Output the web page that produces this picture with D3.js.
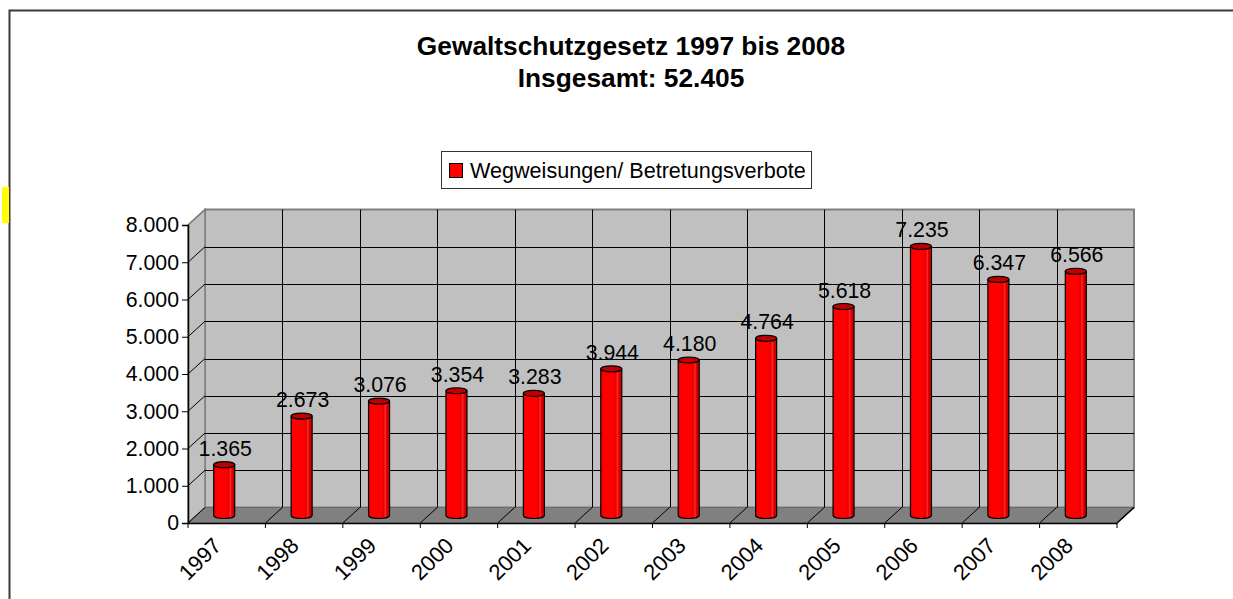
<!DOCTYPE html>
<html>
<head>
<meta charset="utf-8">
<script src="https://cdn.jsdelivr.net/npm/d3@7"></script>
<style>
  body { margin: 0; background: #fff; }
  text { font-family: "Liberation Sans", Arial, sans-serif; fill: #000; }
</style>
</head>
<body>
<div id="canvas"></div>
<script>
const years = ["1997", "1998", "1999", "2000", "2001", "2002", "2003", "2004", "2005", "2006", "2007", "2008"];
const values = [1365, 2673, 3076, 3354, 3283, 3944, 4180, 4764, 5618, 7235, 6347, 6566];
const yTicks = [0, 1000, 2000, 3000, 4000, 5000, 6000, 7000, 8000];
const seriesName = "Wegweisungen/ Betretungsverbote";
const titleLines = ["Gewaltschutzgesetz 1997 bis 2008", "Insgesamt: 52.405"];

const width = 1233;
const height = 599;
const fmt = (v) => d3.format(",")(v).replace(/,/g, ".");

// front plane and back plane of the 3d box
const front = { left: 188, right: 1117, bottom: 523, top: 225 };
const depth = { dx: 17, dy: -15.5 };

const svg = d3.select("#canvas").append("svg")
  .attr("width", width)
  .attr("height", height);

// outer chart border (continues past the window)
svg.append("path")
  .attr("d", `M9.5,${height + 5} L9.5,10.5 L${width + 5},10.5`)
  .attr("fill", "none")
  .attr("stroke", "#3a3a3a")
  .attr("stroke-width", 2);
svg.append("rect").attr("x", 2).attr("y", 187).attr("width", 7).attr("height", 36).attr("fill", "#ffff00");

// title
svg.append("g").selectAll("text").data(titleLines).enter().append("text")
  .attr("x", 631)
  .attr("y", (d, i) => 55 + i * 32)
  .attr("text-anchor", "middle")
  .style("font-size", "26.3px")
  .style("font-weight", "bold")
  .text((d) => d);

// legend
const lg = svg.append("g");
lg.append("rect").attr("x", 441.5).attr("y", 151.5).attr("width", 370).attr("height", 37)
  .attr("fill", "#fff").attr("stroke", "#333");
lg.append("rect").attr("x", 449.5).attr("y", 163.5).attr("width", 13).attr("height", 14)
  .attr("fill", "#ff0000").attr("stroke", "#000");
lg.append("text").attr("x", 470).attr("y", 178).style("font-size", "21.6px").text(seriesName);

const x = d3.scaleBand().domain(years).range([front.left, front.right]);
const yFront = d3.scaleLinear().domain([0, 8000]).range([front.bottom, front.top]);
const yBack = d3.scaleLinear().domain([0, 8000]).range([front.bottom + depth.dy, front.top + depth.dy]);
const yBar = d3.scaleLinear().domain([0, 8000]).range([515.5, 217.9]);
const xBack = (v) => v + depth.dx;

const backL = xBack(front.left), backR = xBack(front.right);

// gradient for the cylinders
const defs = svg.append("defs");
const grad = defs.append("linearGradient").attr("id", "cyl").attr("x1", 0).attr("x2", 1).attr("y1", 0).attr("y2", 0);
[[0, "#f00000"], [0.15, "#ff0000"], [0.62, "#ff0000"], [0.72, "#e60000"], [0.8, "#ff2a2a"], [0.86, "#dd0000"], [1, "#c80000"]]
  .forEach(([o, c]) => grad.append("stop").attr("offset", o).attr("stop-color", c));

// back wall
svg.append("rect")
  .attr("x", backL).attr("y", yBack(8000))
  .attr("width", backR - backL).attr("height", yBack(0) - yBack(8000))
  .attr("fill", "#c0c0c0").attr("stroke", "#808080").attr("stroke-width", 2);

// side wall
svg.append("path")
  .attr("d", `M${front.left},${yFront(0)} L${front.left},${yFront(8000)} L${backL},${yBack(8000)} L${backL},${yBack(0)} Z`)
  .attr("fill", "#c0c0c0").attr("stroke", "#808080").attr("stroke-width", 1.5);

// floor
svg.append("path")
  .attr("d", `M${front.left},${yFront(0)} L${backL},${yBack(0)} L${backR},${yBack(0)} L${front.right},${yFront(0)} Z`)
  .attr("fill", "#808080").attr("stroke", "#6a6a6a");

const boundaries = d3.range(years.length + 1).map((i) => front.left + i * x.step());

// grid on the back wall
const grid = svg.append("g").attr("stroke", "#000").attr("stroke-width", 1).attr("fill", "none");
grid.selectAll(".hg").data(yTicks.filter((d) => d > 0 && d < 8000)).enter().append("line")
  .attr("x1", backL).attr("x2", backR)
  .attr("y1", (d) => Math.round(yBack(d)) + 0.5).attr("y2", (d) => Math.round(yBack(d)) + 0.5);
grid.selectAll(".vg").data(boundaries.slice(1, -1)).enter().append("line")
  .attr("x1", (d) => Math.round(xBack(d)) + 0.5).attr("x2", (d) => Math.round(xBack(d)) + 0.5)
  .attr("y1", yBack(8000)).attr("y2", yBack(0));
// grid on the side wall
grid.selectAll(".sg").data(yTicks.slice(0, -1)).enter().append("line")
  .attr("x1", front.left).attr("y1", (d) => yFront(d))
  .attr("x2", backL).attr("y2", (d) => yBack(d));
svg.append("line").attr("x1", front.left).attr("y1", yFront(8000)).attr("x2", backL).attr("y2", yBack(8000))
  .attr("stroke", "#808080").attr("stroke-width", 1.5);
// grid on the floor
grid.selectAll(".fg").data(boundaries.slice(1)).enter().append("line")
  .attr("x1", (d) => d).attr("y1", yFront(0))
  .attr("x2", (d) => xBack(d)).attr("y2", yBack(0));

// y axis
const yAxis = svg.append("g")
  .attr("transform", `translate(${front.left},0)`)
  .call(d3.axisLeft(yFront).tickValues(yTicks).tickSize(6).tickPadding(3).tickFormat(fmt));
yAxis.select(".domain").attr("stroke", "#000").attr("stroke-width", 1.5);
yAxis.selectAll(".tick line").attr("stroke", "#000");
yAxis.selectAll("text").style("font-size", "21.3px").attr("font-family", null);

// x axis
const xAxis = svg.append("g")
  .attr("transform", `translate(0,${front.bottom})`)
  .call(d3.axisBottom(x).tickSize(0).tickFormat(""));
xAxis.select(".domain").attr("stroke", "#000").attr("stroke-width", 1.5);
xAxis.selectAll(".bt").data(boundaries).enter().append("line")
  .attr("x1", (d) => d).attr("x2", (d) => d).attr("y1", 0).attr("y2", 5)
  .attr("stroke", "#000");
svg.append("line").attr("x1", front.right).attr("y1", yFront(0)).attr("x2", backR).attr("y2", yBack(0))
  .attr("stroke", "#000").attr("stroke-width", 1.5);

xAxis.selectAll(".lbl").data(years).enter().append("text")
  .attr("transform", (d) => `translate(${x(d) + x.bandwidth() / 2 - 4},24) rotate(-45)`)
  .attr("text-anchor", "end")
  .style("font-size", "22px")
  .text((d) => d);

// cylinders
const rx = 10.5, ry = 3;
const cx = (d) => x(d) + x.bandwidth() / 2 - 2.5;
const bars = svg.append("g").selectAll("g").data(years.map((y, i) => ({ year: y, value: values[i] }))).enter().append("g");
bars.append("path")
  .attr("d", (d) => {
    const c = cx(d.year), t = yBar(d.value), b = yBar(0);
    return `M${c - rx},${t} L${c - rx},${b} A${rx},${ry} 0 0 0 ${c + rx},${b} L${c + rx},${t} Z`;
  })
  .attr("fill", "url(#cyl)")
  .attr("stroke", "#000")
  .attr("stroke-width", 1.2);
bars.append("ellipse")
  .attr("cx", (d) => cx(d.year)).attr("cy", (d) => yBar(d.value))
  .attr("rx", rx).attr("ry", ry)
  .attr("fill", "#c00000").attr("stroke", "#000").attr("stroke-width", 1.2);
bars.append("text")
  .attr("x", (d) => cx(d.year) + 1)
  .attr("y", (d) => yBar(d.value) - 9)
  .attr("text-anchor", "middle")
  .style("font-size", "21.3px")
  .text((d) => fmt(d.value));
</script>
</body>
</html>
